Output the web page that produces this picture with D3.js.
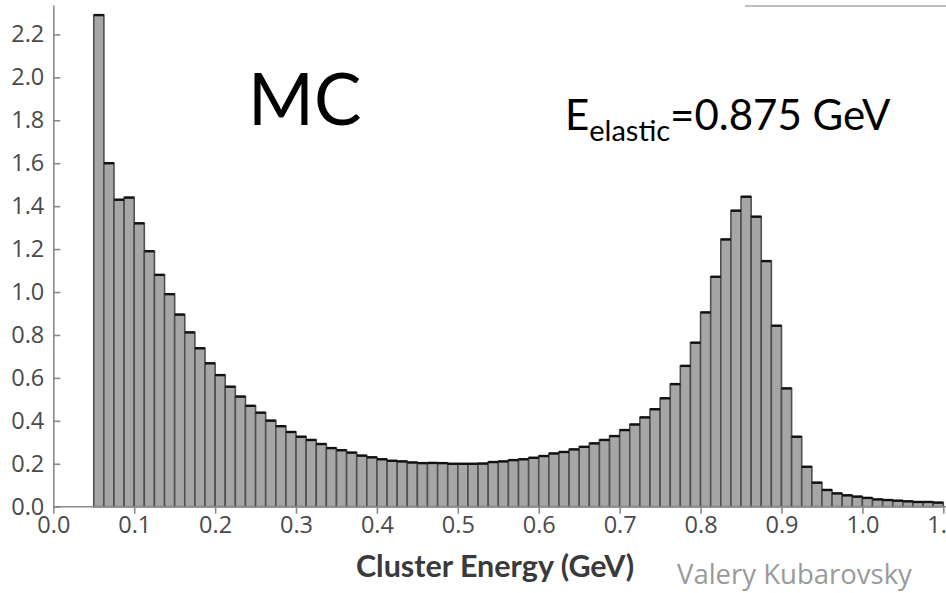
<!doctype html>
<html lang="en">
  <head>
    <meta charset="utf-8">
    <title>Cluster Energy MC</title>
    <style>
      body { margin: 0; background: #fff; }
      svg { display: block; }
      text { font-family: Lato, "Open Sans", sans-serif; }
    </style>
  </head>
  <body>
    <script src="https://cdn.jsdelivr.net/npm/d3@7"></script>
    <script>

      // histogram bins: start at 0.05 GeV, width 0.0125 GeV
      var binStart = 0.05;
      var binWidth = 0.0125;
      var counts = [
        2.29, 1.60, 1.43, 1.44, 1.32, 1.19, 1.08, 0.99, 0.895, 0.812,
        0.738, 0.668, 0.613, 0.559, 0.513, 0.470, 0.438, 0.401, 0.375, 0.348,
        0.326, 0.311, 0.292, 0.273, 0.263, 0.252, 0.238, 0.230, 0.221, 0.214,
        0.211, 0.206, 0.203, 0.204, 0.203, 0.200, 0.200, 0.200, 0.201, 0.208,
        0.211, 0.217, 0.221, 0.228, 0.236, 0.248, 0.255, 0.267, 0.279, 0.295,
        0.311, 0.329, 0.357, 0.383, 0.416, 0.454, 0.505, 0.571, 0.656, 0.764,
        0.905, 1.071, 1.245, 1.379, 1.444, 1.351, 1.144, 0.843, 0.551, 0.326,
        0.186, 0.112, 0.078, 0.062, 0.053, 0.047, 0.041, 0.034, 0.031, 0.028,
        0.025, 0.022, 0.022, 0.019
      ];

      var xTicks = [0.0, 0.1, 0.2, 0.3, 0.4, 0.5, 0.6, 0.7, 0.8, 0.9, 1.0, 1.1];
      var yTicks = [0.0, 0.2, 0.4, 0.6, 0.8, 1.0, 1.2, 1.4, 1.6, 1.8, 2.0, 2.2];

      var data = counts.map(function(v, i){
        return {x0: binStart + i*binWidth, x1: binStart + (i+1)*binWidth, value: v};
      });

      var W = 946, H = 593;

      var svg = d3.select("body")
        .append("svg")
        .attr("width", W)
        .attr("height", H);

      var x = d3.scaleLinear()
        .domain([0, 1.1])
        .range([53.3, 943.3]);

      var y = d3.scaleLinear()
        .domain([0, 2.337])
        .range([506.7, 5]);

      // bars
      var bars = svg.append("g");
      bars.selectAll("rect")
        .data(data)
        .enter()
        .append("rect")
        .attr("x", function(d){ return x(d.x0); })
        .attr("y", function(d){ return y(d.value); })
        .attr("width", function(d){ return x(d.x1) - x(d.x0); })
        .attr("height", function(d){ return y(0) - y(d.value); })
        .attr("fill", "#a6a6a6")
        .attr("stroke", "#505050")
        .attr("stroke-width", 1.6);

      // darker caps on bar tops
      bars.selectAll("line")
        .data(data)
        .enter()
        .append("line")
        .attr("x1", function(d){ return x(d.x0); })
        .attr("x2", function(d){ return x(d.x1); })
        .attr("y1", function(d){ return y(d.value); })
        .attr("y2", function(d){ return y(d.value); })
        .attr("stroke", "#111")
        .attr("stroke-width", 2.4);

      // axes
      var xAxis = svg.append("g")
        .attr("transform", "translate(0," + y(0) + ")")
        .call(d3.axisBottom(x).tickValues(xTicks).tickFormat(d3.format(".1f")).tickSizeOuter(0).tickSizeInner(7).tickPadding(3));

      var yAxis = svg.append("g")
        .attr("transform", "translate(" + x(0) + ",0)")
        .call(d3.axisLeft(y).tickValues(yTicks).tickFormat(d3.format(".1f")).tickSizeOuter(0).tickSizeInner(7).tickPadding(2));

      yAxis.selectAll(".tick line").attr("x2", 7);

      [xAxis, yAxis].forEach(function(a){
        a.select(".domain").attr("stroke", "#8a8a8a").attr("stroke-width", 1.6);
        a.selectAll(".tick line").attr("stroke", "#8a8a8a").attr("stroke-width", 1.6);
        a.selectAll(".tick text")
          .attr("fill", "#4a4a4a")
          .style("font-size", "23.5px")
          .style("font-family", "'Open Sans', sans-serif");
      });

      // extend x axis line to the right edge
      xAxis.select(".domain").attr("d", "M" + x(0) + ",0H" + W);

      // little rule at the top right
      svg.append("line")
        .attr("x1", 745).attr("x2", W)
        .attr("y1", 6).attr("y2", 6)
        .attr("stroke", "#aaa")
        .attr("stroke-width", 1.5);

      // axis title
      svg.append("text")
        .attr("x", 495)
        .attr("y", 577)
        .attr("text-anchor", "middle")
        .attr("fill", "#3a3a3a")
        .style("font-size", "30.5px")
        .style("font-weight", "bold")
        .text("Cluster Energy (GeV)");

      svg.append("text")
        .attr("x", 677)
        .attr("y", 584)
        .attr("fill", "#9a9a9a")
        .style("font-size", "27.5px")
        .style("font-family", "'Open Sans', sans-serif")
        .text("Valery Kubarovsky");

      svg.append("text")
        .attr("x", 248)
        .attr("y", 125)
        .attr("fill", "#000")
        .style("font-size", "71px")
        .text("MC");

      var lbl = svg.append("text")
        .attr("x", 565)
        .attr("y", 130)
        .attr("fill", "#000")
        .style("font-size", "42px");
      lbl.append("tspan").text("E");
      lbl.append("tspan").attr("dy", 11).style("font-size", "29px").text("elastic");
      lbl.append("tspan").attr("dy", -11).text("=0.875 GeV");

    </script>
  </body>
</html>
